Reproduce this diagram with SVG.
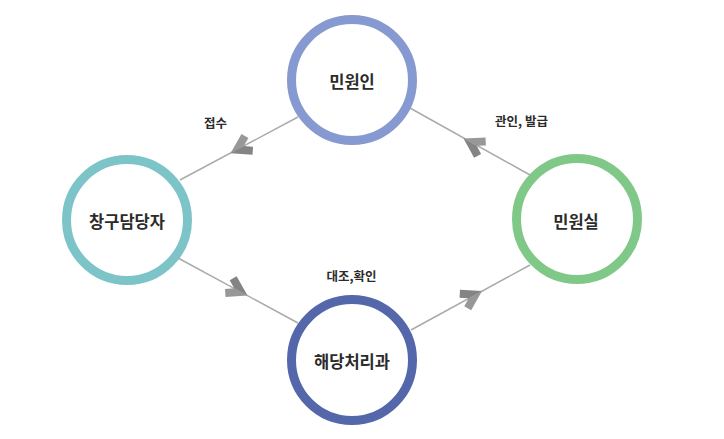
<svg xmlns="http://www.w3.org/2000/svg" width="724" height="439" viewBox="0 0 724 439">
  <defs>
    <style>
      .ring { fill: #ffffff; stroke-width: 9; }
      .name { font-family: "Noto Sans CJK KR", "Noto Sans", sans-serif; font-size: 16.5px; font-weight: bold; fill: #2b2b2b; text-anchor: middle; }
      .lbl { font-family: "Noto Sans CJK KR", "Noto Sans", sans-serif; font-size: 12.5px; font-weight: bold; fill: #2b2b2b; text-anchor: middle; }
      .conn { stroke: #aaaaaa; stroke-width: 1.5; fill: none; }
      .armA { fill: #848484; }
      .armB { fill: #989898; }
    </style>
    <g id="chev">
      <polygon class="armA" points="0,0 -18.7,-11.7 -22.9,-4.9 -15.1,0"/>
      <polygon class="armB" points="0,0 -15.1,0 -22.9,4.9 -18.7,11.7"/>
    </g>
  </defs>
  <rect width="724" height="439" fill="#ffffff"/>

  <g id="connectors">
    <line class="conn" x1="180" y1="180" x2="298" y2="117"/>
    <line class="conn" x1="410" y1="108" x2="530" y2="175"/>
    <line class="conn" x1="178" y1="258" x2="298" y2="323"/>
    <line class="conn" x1="411" y1="330" x2="530" y2="265"/>
    <use href="#chev" transform="translate(230.5,153.2) rotate(151.9)"/>
    <use href="#chev" transform="translate(463.5,138.5) rotate(209.2)"/>
    <use href="#chev" transform="translate(247.5,295.5) rotate(28.4)"/>
    <use href="#chev" transform="translate(482,291) rotate(-28.6)"/>
  </g>

  <g id="label-jeopsu"><text class="lbl" x="215.5" y="128">접수</text></g>
  <g id="label-gwanin"><text class="lbl" x="521.5" y="126">관인, 발급</text></g>
  <g id="label-daejo"><text class="lbl" x="351.5" y="281">대조,확인</text></g>

  <g id="node-minwonin">
    <circle class="ring" cx="352" cy="80" r="60.5" stroke="#8699d1"/>
    <text class="name" x="352" y="88">민원인</text>
  </g>
  <g id="node-changgu">
    <circle class="ring" cx="127" cy="220" r="60.5" stroke="#7cc4c8"/>
    <text class="name" x="127" y="228">창구담당자</text>
  </g>
  <g id="node-minwonsil">
    <circle class="ring" cx="577" cy="219" r="60.5" stroke="#80c888"/>
    <text class="name" x="576" y="228">민원실</text>
  </g>
  <g id="node-haedang">
    <circle class="ring" cx="352" cy="360" r="60.5" stroke="#5567ab"/>
    <text class="name" x="352" y="368">해당처리과</text>
  </g>
</svg>
